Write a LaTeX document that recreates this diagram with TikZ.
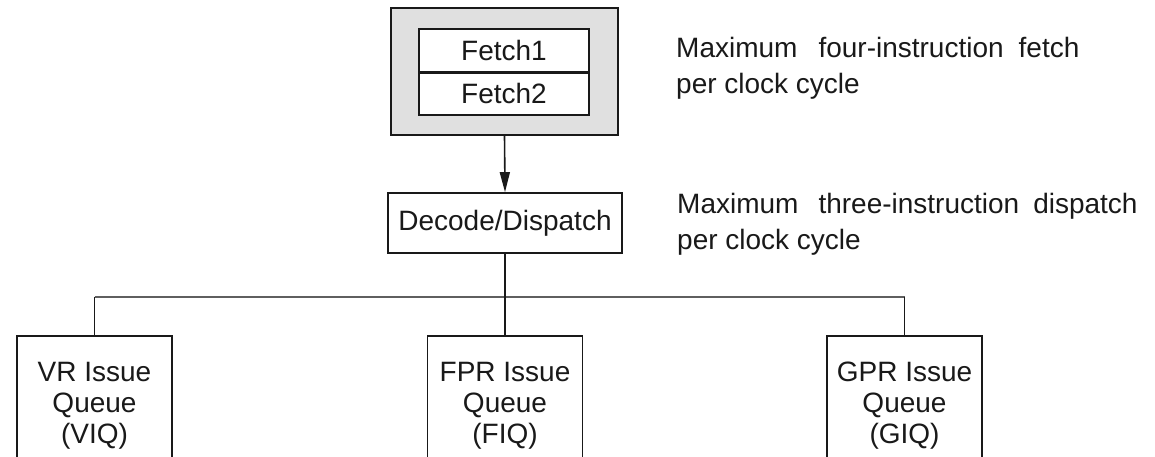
\documentclass[tikz,border=0pt]{standalone}
\usepackage{fontspec}
\setmainfont{Liberation Sans}
\usetikzlibrary{arrows.meta}
\definecolor{panelgray}{RGB}{224,224,224}
\definecolor{inkgray}{RGB}{25,25,25}
\definecolor{busgray}{RGB}{95,95,95}

\begin{document}
\begin{tikzpicture}[x=1pt,y=-1pt,
  every node/.style={font=\fontsize{28}{31}\selectfont, text=inkgray},
  box/.style={draw=inkgray, line width=1.7pt, fill=white, inner sep=0pt},
  stagebox/.style={box, minimum width=170pt, minimum height=43pt},
  queuebox/.style={box, anchor=north, minimum width=155pt, minimum height=140pt, align=center},
  note/.style={anchor=base west, inner sep=0pt, align=left},
  wire/.style={draw=inkgray, line width=1.6pt},
  busline/.style={draw=busgray, line width=1.4pt}]

\useasboundingbox (0,0) rectangle (1155,457);

% fetch unit with its two stages
\node[box, fill=panelgray, minimum width=227pt, minimum height=127pt] (fetchunit) at (504.5,71.5) {};
\node[stagebox] (fetch1) at (504,50.5) {Fetch1};
\node[stagebox] (fetch2) at (504,93.5) {Fetch2};
\draw[line width=3.2pt, draw=inkgray] (fetch1.south west) -- (fetch1.south east);

% decode / dispatch
\node[box, minimum width=234pt, minimum height=60pt] (decode) at (505,223) {Decode/Dispatch};
\draw[wire, -{Triangle[length=20pt,width=10pt]}] (fetchunit.south) -- (decode.north);

% issue queues
\node[queuebox] (viq) at (94.5,335) {VR Issue\\Queue\\(VIQ)};
\node[queuebox] (fiq) at (505,335) {FPR Issue\\Queue\\(FIQ)};
\node[queuebox] (giq) at (904.5,335) {GPR Issue\\Queue\\(GIQ)};

% dispatch bus
\coordinate (bus) at (505,297);
\draw[busline] (viq.north |- bus) -- (giq.north |- bus);
\draw[wire] (decode.south) -- (fiq.north);
\draw[wire] (viq.north) -- (viq.north |- bus);
\draw[wire] (giq.north) -- (giq.north |- bus);

% annotations (base anchor sits on the last line)
\node[note] (fetchnote) at (676,94)
  {Maximum\hspace{21pt}four-instruction\hspace{15pt}fetch\\[5pt]per clock cycle};
\node[note] (dispatchnote) at (677,249)
  {Maximum\hspace{20pt}three-instruction\hspace{14pt}dispatch\\[5pt]per clock cycle};
\end{tikzpicture}
\end{document}
